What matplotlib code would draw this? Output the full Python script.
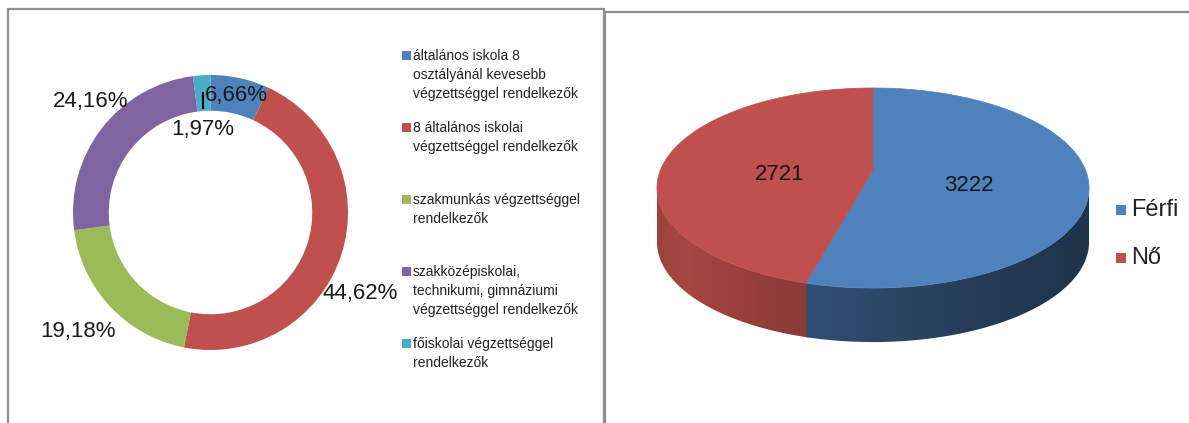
import numpy as np
import matplotlib
matplotlib.use("Agg")
import matplotlib.pyplot as plt
from matplotlib.patches import Polygon, Rectangle
import matplotlib.colors as mcolors

plt.rcParams['font.family'] = ['Liberation Sans', 'DejaVu Sans']

# ---------------- data ----------------
edu_categories = [
    "általános iskola 8\nosztályánál kevesebb\nvégzettséggel rendelkezők",
    "8 általános iskolai\nvégzettséggel rendelkezők",
    "szakmunkás végzettséggel\nrendelkezők",
    "szakközépiskolai,\ntechnikumi, gimnáziumi\nvégzettséggel rendelkezők",
    "főiskolai végzettséggel\nrendelkezők",
]
edu_values = [6.66, 44.62, 19.18, 24.16, 1.97]
edu_colors = ["#4f81bd", "#c0504d", "#9bbb59", "#8064a2", "#4bacc6"]

gender_categories = ["Férfi", "Nő"]
gender_values = [3222, 2721]
gender_colors = ["#4f81bd", "#c0504d"]

# ---------------- layout ----------------
W, H = 1189, 423
fig = plt.figure(figsize=(W / 100, H / 100), dpi=100)
fig.patch.set_facecolor("white")

# donut axes (pixel placement)
dcx, dcy, dr = 210.5, 212.5, 137.5
axd = fig.add_axes([(dcx - dr) / W, 1 - (dcy + dr) / H, 2 * dr / W, 2 * dr / H])
axd.pie(edu_values, colors=edu_colors, startangle=90, counterclock=False,
        radius=1.0, wedgeprops=dict(width=0.26, edgecolor="none"))
axd.set_xlim(-1, 1)
axd.set_ylim(-1, 1)
axd.set_aspect("equal")
axd.axis("off")

# overlay axes in pixel coordinates
ax = fig.add_axes([0, 0, 1, 1])
ax.set_xlim(0, W)
ax.set_ylim(H, 0)
ax.axis("off")
ax.patch.set_visible(False)

border = "#8e8e8e"
ax.plot([8, 8, 604, 604], [440, 9, 9, 440], color=border, lw=1.6, solid_joinstyle="miter")
ax.plot([605, 605, 1195], [440, 12, 12], color=border, lw=1.6, solid_joinstyle="miter")

# donut labels
label_pos = [(236, 95), (360, 294), (78, 331), (91, 101), (203, 129)]
for v, (x, y) in zip(edu_values, label_pos):
    ax.text(x, y, f"{v:.2f}".replace(".", ",") + "%", ha="center", va="center",
            fontsize=16, color="#1a1a1a")
ax.plot([203, 203], [93, 108], color="black", lw=1.5)

# donut legend
entry_y0, entry_step, line_step = 56, 72, 19
for i, (lab, col) in enumerate(zip(edu_categories, edu_colors)):
    y0 = entry_y0 + i * entry_step
    ax.add_patch(Rectangle((402, y0 - 4.5), 8.5, 8.5, facecolor=col, edgecolor="none"))
    for j, line in enumerate(lab.split("\n")):
        ax.text(413, y0 + j * line_step, line, ha="left", va="center",
                fontsize=10, color="#222222")

# ---------------- 3D pie ----------------
k = 0.18
A, B = 212.5, 96.8
cx, cy = 873, 170
D = 54


def proj(phi, r=1.0):
    u = r * np.cos(phi)
    v = r * np.sin(phi)
    s = 1 + k * v
    return cx + A * u / s, cy - B * v / s


fr = np.array(gender_values, dtype=float) / sum(gender_values)
starts = np.pi / 2 - 2 * np.pi * np.concatenate([[0], np.cumsum(fr)[:-1]])
ends = starts - 2 * np.pi * fr

shade_deg = [180, 190, 220, 255, 290, 330, 352, 360]
shade_val = [0.80, 0.80, 0.87, 0.72, 0.56, 0.46, 0.50, 0.50]
slice_mult = [0.85, 1.0]

# front arc (visible side)
a0 = np.pi + np.arcsin(k)
a1 = 2 * np.pi - np.arcsin(k)
arc_phi = np.linspace(a0, a1, 800)
arc_x = np.array([proj(p)[0] for p in arc_phi])

xmin, xmax = arc_x.min(), arc_x.max()
ymin, ymax = 60, 360
cols_x = np.linspace(xmin, xmax, 600)
phi_at_x = np.interp(cols_x, arc_x, arc_phi)
shade = np.interp(np.degrees(phi_at_x), shade_deg, shade_val)

theta = (np.pi / 2 - arc_phi) % (2 * np.pi)
cum = np.concatenate([[0], np.cumsum(fr)]) * 2 * np.pi
for si in range(len(gender_values)):
    mask = (theta >= cum[si]) & (theta < cum[si + 1])
    if not mask.any():
        continue
    idx = np.where(mask)[0]
    pad = 4 if si > 0 else 0  # lower slices overlap slightly to hide seams
    lo, hi = max(idx.min() - pad, 0), min(idx.max() + pad, len(arc_phi) - 1)
    ph = arc_phi[lo:hi + 1]
    top = [proj(p) for p in ph]
    bot = [(x, y + D) for (x, y) in top[::-1]]
    poly = Polygon(top + bot, closed=True, facecolor="none", edgecolor="none")
    ax.add_patch(poly)
    base = np.array(mcolors.to_rgb(gender_colors[si]))
    img = np.clip(base[None, None, :] * (shade * slice_mult[si])[None, :, None], 0, 1)
    img = np.repeat(img, 2, axis=0)
    im = ax.imshow(img, extent=(xmin, xmax, ymax, ymin), aspect="auto",
                   interpolation="bilinear", zorder=1.1 if si == 0 else 1.0)
    im.set_clip_path(poly)

ax.set_xlim(0, W)
ax.set_ylim(H, 0)

for si in range(len(gender_values)):
    arc = np.linspace(starts[si], ends[si], 300)
    pts = [proj(0, 0)] + [proj(p) for p in arc]
    ax.add_patch(Polygon(pts, closed=True, facecolor=gender_colors[si],
                         edgecolor=gender_colors[si], lw=0.5, zorder=2))
    mid = 0.5 * (starts[si] + ends[si])
    lx, ly = proj(mid, 0.45)
    ax.text(lx, ly + 10, str(gender_values[si]), ha="center", va="center",
            fontsize=16, color="#151515", zorder=3)

# gender legend
for i, (lab, col) in enumerate(zip(gender_categories, gender_colors)):
    y = 210 + i * 48
    ax.add_patch(Rectangle((1116, y - 5), 10, 10, facecolor=col, edgecolor="none"))
    ax.text(1131, y, lab, ha="left", va="center", fontsize=17, color="#222222")

fig.savefig("out.png", dpi=100, facecolor="white")
